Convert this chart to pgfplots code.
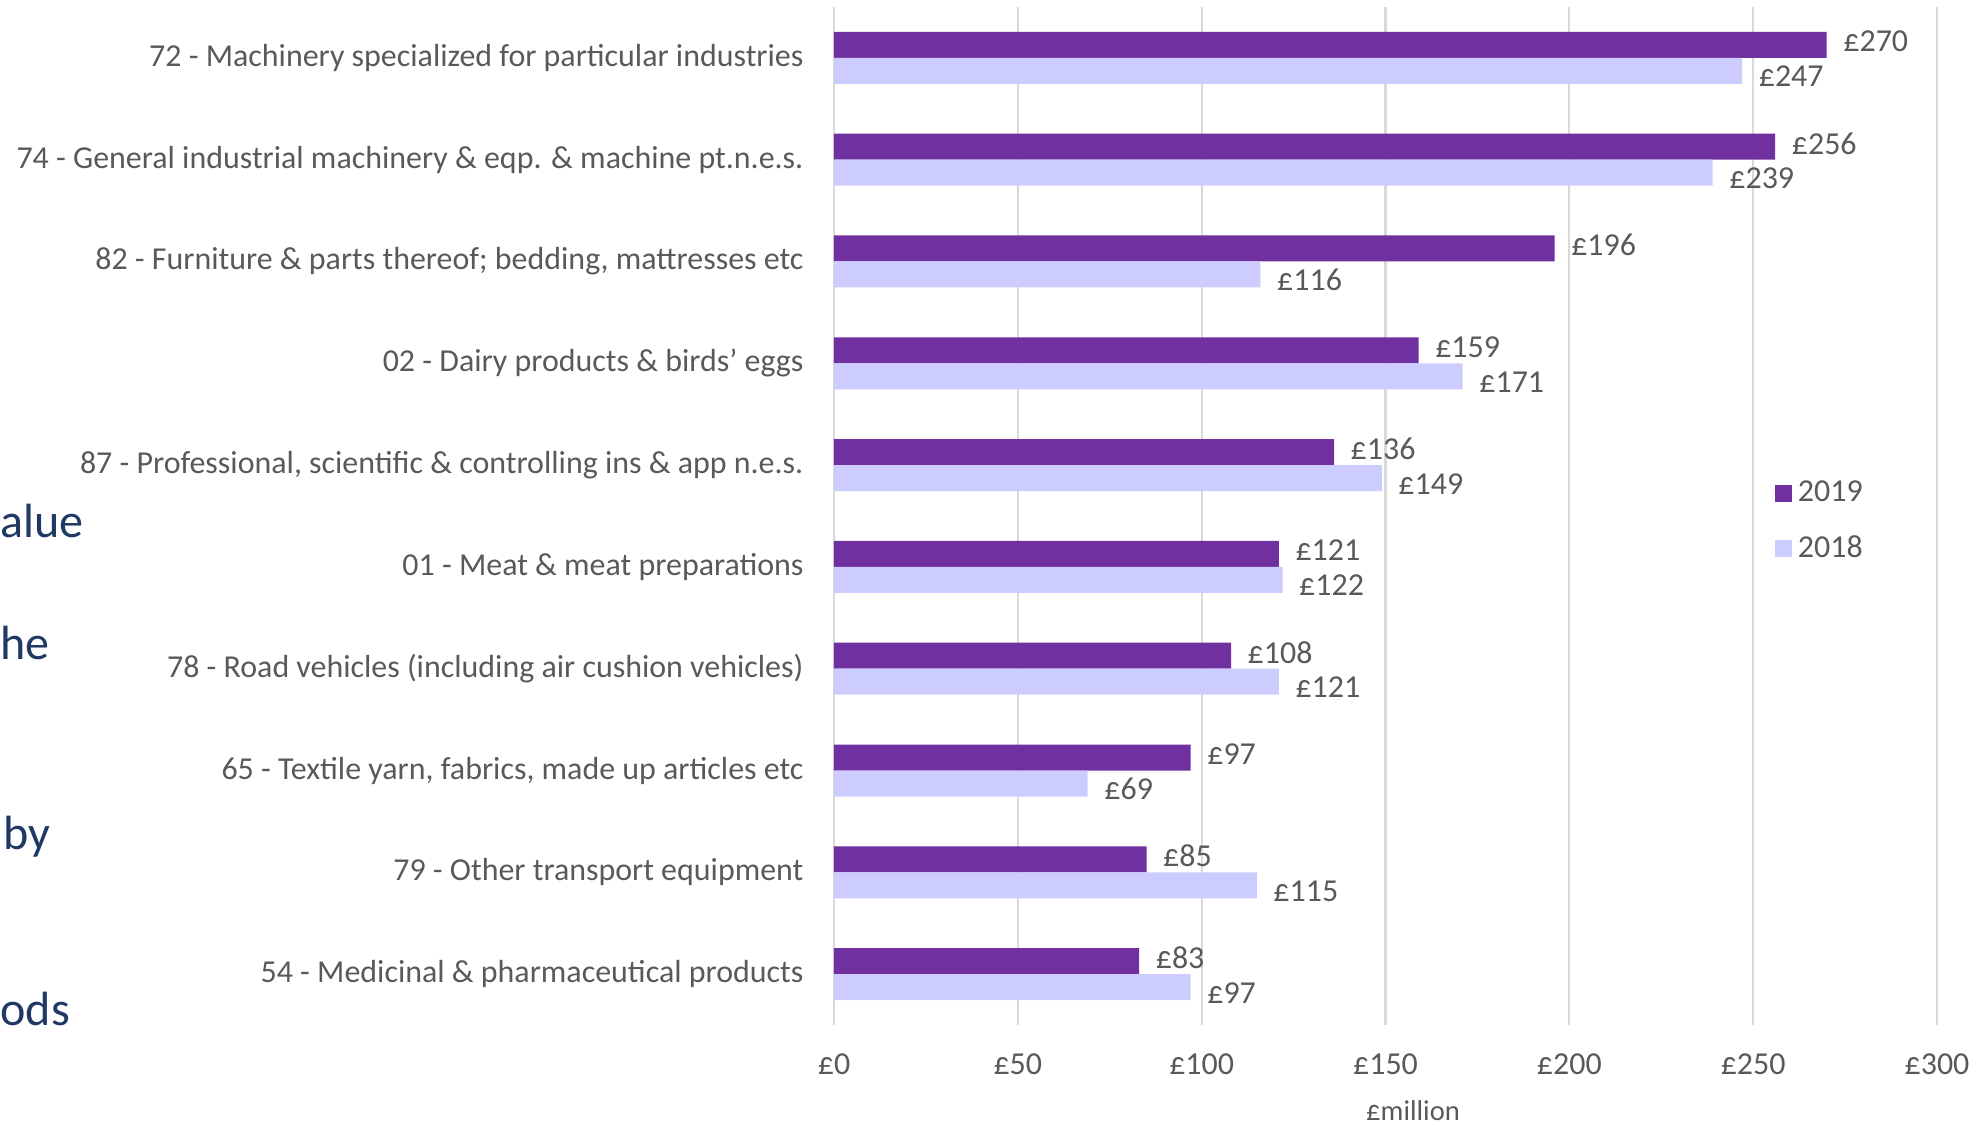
\documentclass[border=0pt]{standalone}
\usepackage{fontspec}
\setmainfont{Carlito}
\usepackage{pgfplots}
\usepackage{pgfplotstable}
\pgfplotsset{compat=1.18}
\definecolor{c2019}{HTML}{7030A0}
\definecolor{c2018}{HTML}{CCCCFF}
\definecolor{txt}{HTML}{595959}
\definecolor{gridc}{HTML}{D9D9D9}
\definecolor{navy}{HTML}{203864}
\pgfplotstableread{
idx v2019 v2018
0 270 247
1 256 239
2 196 116
3 159 171
4 136 149
5 121 122
6 108 121
7 97 69
8 85 115
9 83 97
}\datatable
\begin{document}
\begin{tikzpicture}
\path[use as bounding box] (0,0) rectangle (712.44pt,404.64pt);
\begin{axis}[
  at={(300.24pt,35.64pt)}, anchor=south west,
  scale only axis, width=397.08pt, height=366.48pt,
  xbar, bar width=9.36pt,
  xmin=0, xmax=300, ymin=-0.5, ymax=9.5, y dir=reverse,
  xtick={0,50,100,150,200,250,300},
  xticklabels={£0,£50,£100,£150,£200,£250,£300},
  ytick={0,...,9},
  yticklabels={
    {72 - Machinery specialized for particular industries},
    {74 - General industrial machinery \& eqp. \& machine pt.n.e.s.},
    {82 - Furniture \& parts thereof; bedding, mattresses etc},
    {02 - Dairy products \& birds’ eggs},
    {87 - Professional, scientific \& controlling ins \& app n.e.s.},
    {01 - Meat \& meat preparations},
    {78 - Road vehicles (including air cushion vehicles)},
    {65 - Textile yarn, fabrics, made up articles etc},
    {79 - Other transport equipment},
    {54 - Medicinal \& pharmaceutical products}},
  major tick length=0pt,
  axis line style={draw=none},
  xmajorgrids, grid style={gridc, line width=0.8pt},
  tick label style={font=\fontsize{11.5}{13}\selectfont, text=txt},
  yticklabel style={anchor=east, inner sep=0pt, xshift=-10.8pt},
  xticklabel style={anchor=base, inner sep=0pt, yshift=-17.8pt},
  xlabel={£million},
  xlabel style={at={(axis description cs:0.525,0)}, anchor=base, yshift=-34.2pt, inner sep=0pt, font=\fontsize{10.3}{12}\selectfont, text=txt},
  nodes near coords={£\pgfmathprintnumber[assume math mode=true]{\pgfplotspointmeta}},
  every node near coord/.append style={anchor=west, inner sep=0pt, xshift=5.8pt, font=\fontsize{11.5}{13}\selectfont, text=txt},
  legend style={draw=none, fill=none, at={(axis description cs:0.853,0.5496)}, anchor=north west, inner sep=0pt, row sep=0pt, column sep=2pt,
    nodes={inner sep=0pt, minimum height=19.8pt, font=\fontsize{11.5}{13}\selectfont, text=txt}},
  legend cell align=left,
]
\addplot[fill=c2019, draw=none, bar shift=4.68pt,
  every node near coord/.append style={yshift=1.2pt},
  legend image code/.code={\fill[c2019] (0pt,-3.05pt) rectangle (6.1pt,3.05pt);}]
  table[x=v2019, y=idx] {\datatable};
\addlegendentry{2019}
\addplot[fill=c2018, draw=none, bar shift=-4.68pt,
  every node near coord/.append style={yshift=-2pt},
  legend image code/.code={\fill[c2018] (0pt,-3.05pt) rectangle (6.1pt,3.05pt);}]
  table[x=v2018, y=idx] {\datatable};
\addlegendentry{2018}
\end{axis}
\begin{scope}[font=\fontsize{17.3}{20}\selectfont, text=navy]
\node[anchor=base west, inner sep=0pt] at (0pt,{(1124-538)*0.36pt}) {alue};
\node[anchor=base west, inner sep=0pt] at (0pt,{(1124-660)*0.36pt}) {he};
\node[anchor=base west, inner sep=0pt] at (1pt,{(1124-850)*0.36pt}) {by};
\node[anchor=base west, inner sep=0pt] at (0pt,{(1124-1025)*0.36pt}) {ods};
\end{scope}
\end{tikzpicture}
\end{document}
